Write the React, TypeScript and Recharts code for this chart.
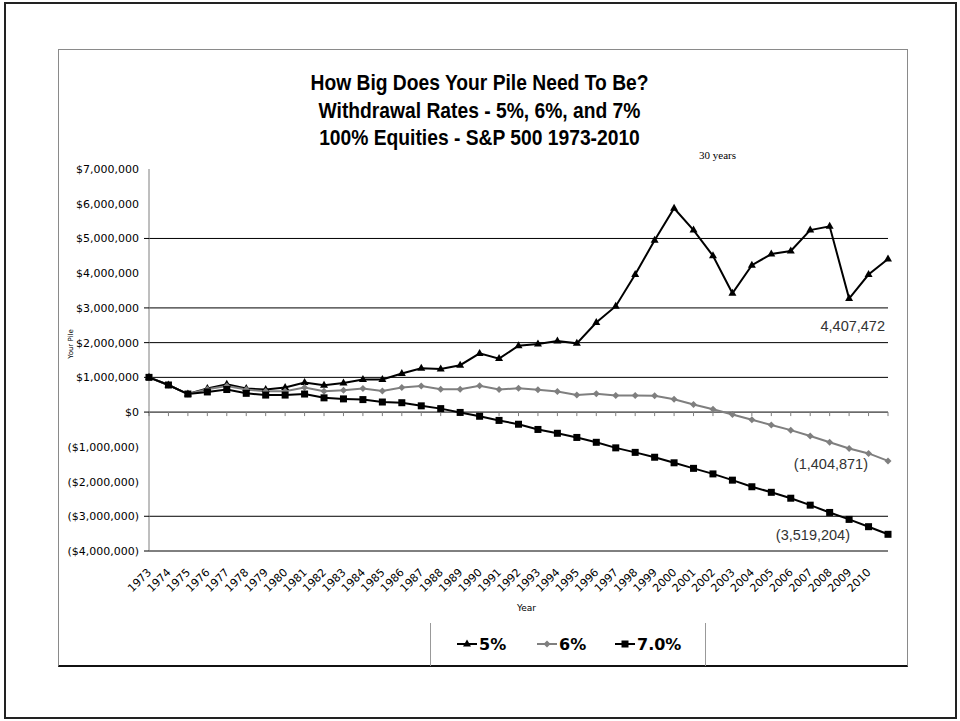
import React from 'react';
import { LineChart, Line, XAxis, YAxis, ReferenceLine, LabelList } from 'recharts';

// Year-end portfolio value, starting pile $1,000,000
const years = [
  '1973', '1974', '1975', '1976', '1977', '1978', '1979', '1980', '1981', '1982',
  '1983', '1984', '1985', '1986', '1987', '1988', '1989', '1990', '1991', '1992',
  '1993', '1994', '1995', '1996', '1997', '1998', '1999', '2000', '2001', '2002',
  '2003', '2004', '2005', '2006', '2007', '2008', '2009', '2010', '',
];

const rate5 = [
  1000000, 780000, 520000, 680000, 800000, 680000, 650000, 710000, 850000, 770000,
  840000, 940000, 940000, 1110000, 1260000, 1240000, 1350000, 1690000, 1540000, 1910000,
  1960000, 2050000, 1980000, 2580000, 3050000, 3960000, 4950000, 5870000, 5240000, 4500000,
  3420000, 4230000, 4550000, 4640000, 5240000, 5350000, 3270000, 3960000, 4407472,
];

const rate6 = [
  1000000, 780000, 520000, 660000, 750000, 650000, 600000, 600000, 710000, 600000,
  630000, 680000, 610000, 710000, 750000, 660000, 660000, 760000, 650000, 690000,
  640000, 590000, 490000, 530000, 475000, 475000, 470000, 370000, 220000, 80000,
  -70000, -220000, -370000, -520000, -690000, -870000, -1050000, -1190000, -1404871,
];

const rate7 = [
  1000000, 780000, 520000, 580000, 650000, 540000, 490000, 490000, 520000, 410000,
  380000, 360000, 290000, 270000, 180000, 100000, -10000, -120000, -240000, -350000,
  -500000, -610000, -730000, -870000, -1030000, -1160000, -1300000, -1460000, -1620000, -1780000,
  -1960000, -2150000, -2310000, -2480000, -2680000, -2890000, -3090000, -3300000, -3519204,
];

const yTicks = [
  7000000, 6000000, 5000000, 4000000, 3000000, 2000000, 1000000, 0,
  -1000000, -2000000, -3000000, -4000000,
];
const gridValues = [5000000, 3000000, 2000000, 1000000, -3000000];
const tickMarkValues = [5000000, 3000000, 2000000, 1000000, 0, -3000000, -4000000];

const data = years.map((year, i) => ({ year, r5: rate5[i], r6: rate6[i], r7: rate7[i] }));

const GRAY = '#7f7f7f';
const SANS = '"DejaVu Sans", Verdana, sans-serif';
const ARIAL = '"Liberation Sans", Arial, sans-serif';

const money = (v: number) => {
  const s = '$' + Math.abs(v).toLocaleString('en-US');
  return v < 0 ? `(${s})` : s;
};
const plain = (v: number) => {
  const s = Math.abs(v).toLocaleString('en-US');
  return v < 0 ? `(${s})` : s;
};

const YTick = (props: any) => {
  const { x, y, payload } = props;
  return (
    <g>
      <text x={x - 10} y={y} dy={4} textAnchor="end" fontSize={11} fontFamily={SANS} fill="#000">
        {money(payload.value)}
      </text>
      {tickMarkValues.includes(payload.value) && (
        <line x1={x - 5} x2={x} y1={y} y2={y} stroke="#000" strokeWidth={1} />
      )}
    </g>
  );
};

const XTick = (props: any) => {
  const { x, y, payload } = props;
  return (
    <text
      transform={`translate(${x + 3},${y + 22}) rotate(-45)`}
      textAnchor="end"
      fontSize={11}
      fontFamily={SANS}
      fill="#000"
    >
      {payload.value}
    </text>
  );
};

// zero line doubles as the category axis: small ticks hang below it at each year
const ZeroAxis = (props: any) => {
  const { x1, y1, x2, y2 } = props;
  const n = years.length;
  const step = (x2 - x1) / (n - 1);
  return (
    <g>
      <line x1={x1} y1={y1} x2={x2} y2={y2} stroke="#000" strokeWidth={1} />
      {years.map((_y, i) => (
        <line key={i} x1={x1 + i * step} x2={x1 + i * step} y1={y1} y2={y1 + 4} stroke={GRAY} strokeWidth={1} />
      ))}
    </g>
  );
};

const triangle = (cx: number, cy: number, fill: string, key?: any) => (
  <path key={key} d={`M${cx},${cy - 4.5}L${cx + 4},${cy + 2.5}L${cx - 4},${cy + 2.5}Z`} fill={fill} />
);
const diamond = (cx: number, cy: number, fill: string, key?: any) => (
  <path key={key} d={`M${cx},${cy - 3.5}L${cx + 3.5},${cy}L${cx},${cy + 3.5}L${cx - 3.5},${cy}Z`} fill={fill} />
);
const square = (cx: number, cy: number, fill: string, key?: any) => (
  <rect key={key} x={cx - 3.5} y={cy - 3.5} width={7} height={7} fill={fill} />
);

const series = [
  { key: 'r5', name: '5%', color: '#000', marker: triangle, labelDx: -3, labelDy: 72 },
  { key: 'r6', name: '6%', color: GRAY, marker: diamond, labelDx: -20, labelDy: 8 },
  { key: 'r7', name: '7.0%', color: '#000', marker: square, labelDx: -38, labelDy: 6 },
];

const endLabel = (dx: number, dy: number) => (props: any) => {
  const { x, y, index, value } = props;
  if (index !== years.length - 1) return null;
  return (
    <text x={x + dx} y={y + dy} textAnchor="end" fontSize={14.5} fontFamily={ARIAL} fill="#333">
      {plain(value)}
    </text>
  );
};

const LegendBox = () => (
  <svg
    width={274}
    height={43}
    style={{ position: 'absolute', left: 430, top: 623, borderLeft: '1px solid #999', borderRight: '1px solid #999' }}
  >
    {series.map((s, i) => {
      const x0 = [26, 106, 184][i];
      return (
        <g key={s.key}>
          <line x1={x0} x2={x0 + 20} y1={21} y2={21} stroke={s.color} strokeWidth={2} />
          {s.marker(x0 + 10, 21, s.color)}
          <text x={x0 + 22} y={27} fontSize={16} fontWeight="bold" fontFamily={SANS} fill="#000">
            {s.name}
          </text>
        </g>
      );
    })}
  </svg>
);

export default function App() {
  return (
    <div style={{ position: 'absolute', left: 0, top: 0, width: 960, height: 721, background: '#fff', overflow: 'hidden' }}>
      <div style={{ position: 'absolute', left: 4, top: 2, width: 953, height: 717, border: '2px solid #222', boxSizing: 'border-box' }} />
      <div
        style={{
          position: 'absolute', left: 58, top: 49, width: 850, height: 618,
          border: '1px solid #8a8a8a', borderBottom: '2px solid #111', boxSizing: 'border-box',
        }}
      />
      <div
        style={{
          position: 'absolute', left: 0, top: 69, width: 959, textAlign: 'center',
          fontFamily: ARIAL, fontWeight: 'bold', fontSize: 22, lineHeight: '27.5px',
          transform: 'scaleX(0.875)', transformOrigin: '479.5px 0', color: '#000',
        }}
      >
        How Big Does Your Pile Need To Be?
        <br />
        Withdrawal Rates - 5%, 6%, and 7%
        <br />
        100% Equities - S&amp;P 500 1973-2010
      </div>
      <div style={{ position: 'absolute', left: 699, top: 149, fontFamily: '"Liberation Serif", "Times New Roman", serif', fontSize: 11 }}>
        30 years
      </div>
      <div
        style={{
          position: 'absolute', left: 71, top: 344, fontFamily: SANS, fontSize: 7,
          transform: 'translate(-50%, -50%) rotate(-90deg)', whiteSpace: 'nowrap',
        }}
      >
        Your Pile
      </div>
      <div style={{ position: 'absolute', left: 517, top: 603, fontFamily: SANS, fontSize: 9 }}>Year</div>

      <div style={{ position: 'absolute', left: 0, top: 0 }}>
        <LineChart width={960} height={721} data={data} margin={{ top: 169, right: 72, bottom: 140, left: 59 }}>
          <XAxis
            dataKey="year"
            interval={0}
            tick={<XTick />}
            tickLine={false}
            tickSize={0}
            tickMargin={0}
            height={30}
            axisLine={{ stroke: '#000', strokeWidth: 1 }}
          />
          <YAxis
            domain={[-4000000, 7000000]}
            ticks={yTicks}
            interval={0}
            width={90}
            tick={<YTick />}
            tickLine={false}
            tickSize={0}
            tickMargin={0}
            axisLine={{ stroke: GRAY, strokeWidth: 1 }}
          />
          {gridValues.map((v) => (
            <ReferenceLine key={v} y={v} stroke="#000" strokeWidth={1} />
          ))}
          <ReferenceLine y={0} shape={<ZeroAxis />} />
          {series.map((s) => (
            <Line
              key={s.key}
              dataKey={s.key}
              name={s.name}
              type="linear"
              stroke={s.color}
              strokeWidth={2}
              dot={(p: any) => s.marker(p.cx, p.cy, s.color, `${s.key}-${p.index}`)}
              activeDot={false}
              isAnimationActive={false}
            >
              <LabelList dataKey={s.key} content={endLabel(s.labelDx, s.labelDy)} />
            </Line>
          ))}
        </LineChart>
      </div>
      <LegendBox />
    </div>
  );
}
